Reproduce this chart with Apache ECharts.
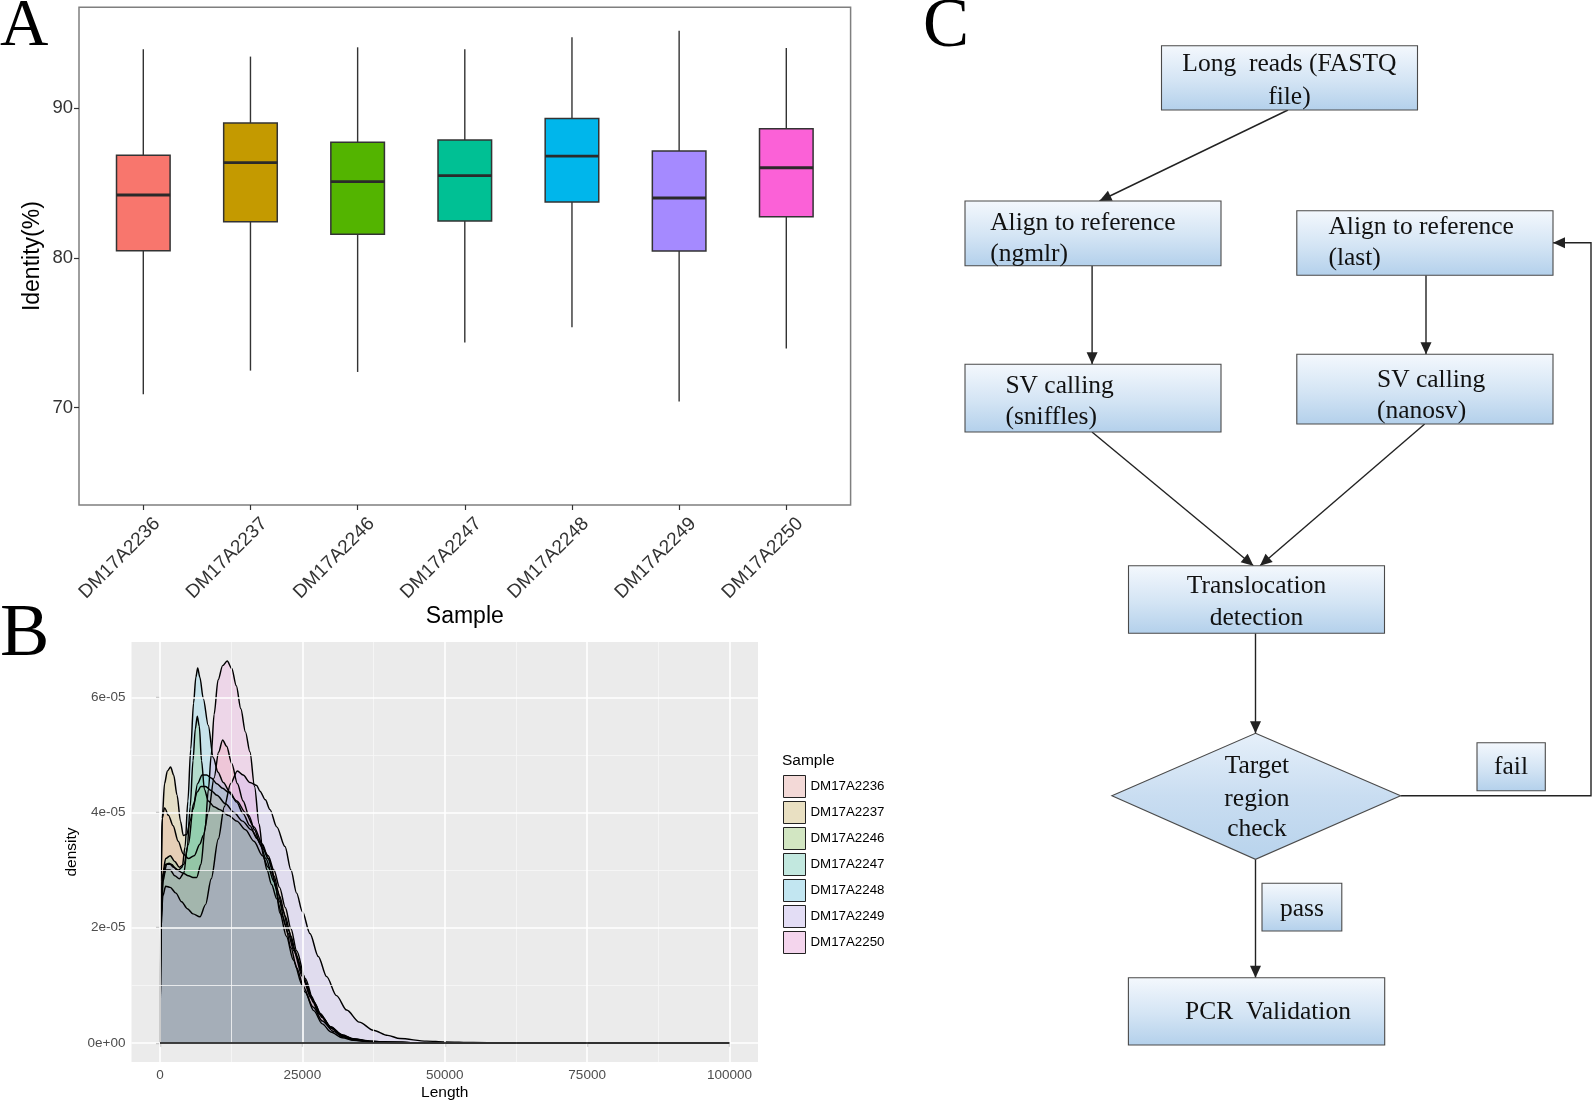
<!DOCTYPE html>
<html><head><meta charset="utf-8">
<script src="https://cdn.jsdelivr.net/npm/echarts@6/dist/echarts.min.js"></script>
<style>html,body{margin:0;padding:0;background:#fff;}#c{width:1594px;height:1102px;}</style>
</head><body><div id="c"></div>
<script>
// ---------- Panel A : identity boxplots ----------
const samples = ['DM17A2236','DM17A2237','DM17A2246','DM17A2247','DM17A2248','DM17A2249','DM17A2250'];
const whiskerLow  = [70.9, 72.47, 72.38, 74.34, 75.37, 70.4, 73.94];
const q1          = [80.47, 82.41, 81.57, 82.46, 83.73, 80.45, 82.74];
const median      = [84.19, 86.35, 85.08, 85.48, 86.78, 83.99, 86.01];
const q3          = [86.84, 89.0, 87.71, 87.86, 89.29, 87.13, 88.62];
const whiskerHigh = [93.92, 93.43, 94.05, 93.92, 94.72, 95.16, 94.0];
const identityTicks = [70, 80, 90];
const samplePositions = [1, 2, 3, 4, 5, 6, 7];

// ---------- Panel B : read length density (density in units of 1e-5) ----------
const lengthTicks = [0, 25000, 50000, 75000, 100000];
const lengthMinor = [12500, 37500, 62500, 87500];
const densityTicks = [0, 2, 4, 6];
const densityMinor = [1, 3, 5];

const len2236 = [0,150,400,800,1500,2300,3200,4100,5000,6000,7000,7600,8500,9500,10300,11000,11700,12600,13600,14600,15600,16600,17600,18600,19600,20600,21600,22600,23600,25000,26500,28000,30000,32000,34000,37000,40000,45000,50000,60000,100000];
const den2236 = [0,2.6,3.9,4.08,3.95,3.77,3.5,3.28,3.2,3.25,3.45,3.6,4.0,4.6,5.05,5.26,5.15,4.85,4.5,4.2,3.95,3.7,3.45,3.2,2.95,2.65,2.3,1.95,1.62,1.2,0.82,0.52,0.28,0.14,0.07,0.03,0.013,0.004,0.001,0,0];

const len2237 = [0,150,400,800,1300,1870,2400,3000,3600,4100,4700,5300,5900,6500,7200,8000,9000,10000,11500,13000,14500,16000,17500,19000,20000,21000,22000,23000,24000,25500,27000,28500,30000,32000,34000,37000,40000,45000,50000,60000,100000];
const den2237 = [0,2.8,3.9,4.5,4.72,4.79,4.65,4.3,3.85,3.6,3.62,3.85,4.15,4.35,4.45,4.45,4.38,4.3,4.15,4.0,3.85,3.7,3.5,3.25,3.0,2.7,2.35,1.98,1.6,1.12,0.72,0.44,0.26,0.12,0.055,0.02,0.008,0.002,0.001,0,0];

const len2246 = [0,200,500,1000,1800,2600,3400,4200,4800,5300,5800,6200,6550,6900,7300,7800,8500,9500,10500,12000,13500,15000,16500,18000,19000,20000,21000,22000,23000,24000,25500,27000,28500,30000,32000,34000,37000,40000,45000,50000,60000,100000];
const den2246 = [0,2.1,2.8,3.0,3.0,2.9,2.85,2.95,3.4,4.1,4.9,5.45,5.67,5.5,4.9,4.4,4.2,4.1,4.05,3.95,3.85,3.7,3.5,3.25,3.05,2.8,2.45,2.05,1.65,1.3,0.88,0.56,0.33,0.19,0.09,0.045,0.02,0.009,0.003,0.001,0,0];

const len2247 = [0,200,500,1000,1800,2600,3400,4200,5000,5800,6600,7400,8200,9000,10000,11000,12000,13500,15000,16500,18000,19000,20000,21000,22000,23000,24000,25500,27000,28500,30000,32000,34000,37000,40000,45000,50000,60000,100000];
const den2247 = [0,2.3,2.95,3.2,3.25,3.15,3.05,3.1,3.45,4.05,4.5,4.65,4.65,4.6,4.5,4.42,4.35,4.2,4.0,3.75,3.45,3.2,2.9,2.55,2.2,1.85,1.5,1.05,0.7,0.45,0.27,0.13,0.06,0.025,0.011,0.004,0.001,0,0];

const len2248 = [0,200,500,1000,1600,2400,3200,3900,4400,4900,5400,5900,6300,6620,7000,7600,8480,9360,10200,11110,12300,13460,14600,15800,17000,18140,19000,19600,20300,21070,22200,23410,25000,26920,28500,30430,32000,33940,37000,40000,45000,50000,60000,100000];
const den2248 = [0,2.2,2.9,3.1,3.12,3.05,3.0,3.05,3.4,4.2,5.1,5.9,6.35,6.51,6.35,5.98,5.51,4.95,4.7,4.52,4.35,4.18,3.98,3.77,3.55,3.36,3.2,3.06,2.7,2.25,1.85,1.44,1.0,0.62,0.38,0.2,0.11,0.05,0.02,0.01,0.004,0.001,0,0];

const len2249 = [0,200,500,1000,1800,2800,3800,4800,5800,7020,8000,9000,10240,11300,12400,13580,14600,15800,16970,17556,18500,19310,20500,21950,23000,23990,25000,26330,27800,29260,31000,32770,35000,37450,40000,42130,46820,50000,55000,60000,100000];
const den2249 = [0,2.0,2.55,2.72,2.7,2.6,2.45,2.33,2.24,2.19,2.4,2.85,3.54,4.1,4.5,4.72,4.65,4.52,4.47,4.37,4.22,4.05,3.75,3.41,3.0,2.6,2.28,1.9,1.5,1.15,0.82,0.57,0.36,0.22,0.13,0.075,0.03,0.015,0.005,0.002,0];

const len2250 = [0,200,600,1200,2000,3000,4000,5000,5800,6440,7200,7900,8500,9000,9500,10200,11000,11800,12600,13400,14200,15000,15800,16600,17400,18140,18800,19600,20500,21500,22500,23500,25000,26500,28000,30000,32000,34000,37000,40000,45000,50000,60000,100000];
const den2250 = [0,2.2,2.9,3.1,3.1,3.0,2.95,2.9,2.87,2.87,3.1,3.7,4.4,5.0,5.7,6.3,6.55,6.63,6.5,6.2,5.8,5.4,5.05,4.45,3.8,3.25,3.0,2.75,2.5,2.2,1.9,1.6,1.15,0.78,0.5,0.26,0.13,0.065,0.027,0.011,0.004,0.001,0,0];

const densityLengths = [len2236, len2237, len2246, len2247, len2248, len2249, len2250];
const densityValues  = [den2236, den2237, den2246, den2247, den2248, den2249, den2250];

// ---------- Panel C : flowchart texts ----------
const flowText = {
  reads: ['Long  reads (FASTQ', 'file)'],
  ngmlr: ['Align to reference', '(ngmlr)'],
  last: ['Align to reference', '(last)'],
  sniffles: ['SV calling', '(sniffles)'],
  nanosv: ['SV calling', '(nanosv)'],
  transl: ['Translocation', 'detection'],
  check: ['Target', 'region', 'check'],
  fail: ['fail'],
  pass: ['pass'],
  pcr: ['PCR  Validation']
};

// ---------- styles ----------
const hue = ['#F8766D','#C49A00','#53B400','#00C094','#00B6EB','#A58AFF','#FB61D7'];
const keyFill = ['#F3D9D7','#E9E0C2','#D2E6C2','#C2E8DF','#C2E6F1','#E3DDF5','#F4D5ED'];
function rgba(hex, a){const n=parseInt(hex.slice(1),16);return 'rgba('+(n>>16)+','+((n>>8)&255)+','+(n&255)+','+a+')';}
const SANS = '"Liberation Sans", Arial, sans-serif';
const SERIF = '"Liberation Serif", "Times New Roman", serif';

const flowLayout = {
  reads:   {box:[1161.5,45.7,256,64.3], align:'center', tx:1289.4, ty:[64.5,97]},
  ngmlr:   {box:[965,201,256,64.7], align:'left', tx:990.2, ty:[223,254]},
  last:    {box:[1296.8,210.7,256.2,64.6], align:'left', tx:1328.4, ty:[227,258]},
  sniffles:{box:[965,364.3,256,67.7], align:'left', tx:1005.4, ty:[386,417]},
  nanosv:  {box:[1296.8,354.3,256.2,69.7], align:'left', tx:1377, ty:[380,411]},
  transl:  {box:[1128.5,565.7,256,67.6], align:'center', tx:1256.5, ty:[586,618.5]},
  fail:    {box:[1477,742.7,68.3,48], align:'center', tx:1511, ty:[767.5]},
  pass:    {box:[1262,883.3,79.8,47.7], align:'center', tx:1301.9, ty:[909.5]},
  pcr:     {box:[1128.4,977.7,256.3,67.3], align:'center', tx:1268, ty:[1012]},
  check:   {diamond:[[1255.5,733.3],[1400.6,795.7],[1255.5,859.3],[1111.9,795.7]], align:'center', tx:1256.9, ty:[766.5,799.5,829.5]}
};
const flowEdges = [
  [[1288,110],[1099.5,201]],
  [[1092.1,265.7],[1092.1,364.3]],
  [[1426,275.3],[1426,354.3]],
  [[1092,432],[1253.4,565.7]],
  [[1424.7,424],[1260,565.7]],
  [[1255.5,633.3],[1255.5,733.3]],
  [[1255.5,859.3],[1255.5,977.7]],
  [[1400.6,795.7],[1591,795.7],[1591,242.7],[1553,242.7]]
];

const boxGrad = {type:'linear',x:0,y:0,x2:0,y2:1,colorStops:[{offset:0,color:'#F4F8FD'},{offset:0.55,color:'#D3E4F4'},{offset:1,color:'#B3D0EB'}]};
const diaGrad = {type:'linear',x:0,y:0,x2:0,y2:1,colorStops:[{offset:0,color:'#E6F0FA'},{offset:0.5,color:'#C9DDF1'},{offset:1,color:'#B8D3EC'}]};

const graphics = [];
function addText(t,x,y,size,family,align,color){
  graphics.push({type:'text', x:x, y:y, z:100, style:{text:t, font:size+'px '+family, fill:color||'#111', align:align, verticalAlign:'middle', textAlign:align, textVerticalAlign:'middle'}});
}
// panel letters
addText('A', 0, 27.5, 67, SERIF, 'left', '#000');
addText('B', 0, 636, 74, SERIF, 'left', '#000');
addText('C', 923, 27.5, 69, SERIF, 'left', '#000');
// legend title of B
addText('Sample', 782, 761, 15.5, SANS, 'left', '#000');

// flow edges
flowEdges.forEach(function(pts){
  graphics.push({type:'polyline', z:50, shape:{points:pts}, style:{stroke:'#222', lineWidth:1.4, fill:null}});
  const a = pts[pts.length-2], b = pts[pts.length-1];
  const dx=b[0]-a[0], dy=b[1]-a[1], L=Math.sqrt(dx*dx+dy*dy), ux=dx/L, uy=dy/L;
  const bl=12, hw=5.5;
  graphics.push({type:'polygon', z:51, shape:{points:[[b[0],b[1]],[b[0]-ux*bl-uy*hw,b[1]-uy*bl+ux*hw],[b[0]-ux*bl+uy*hw,b[1]-uy*bl-ux*hw]]}, style:{fill:'#222'}});
});
// flow nodes
Object.keys(flowText).forEach(function(k){
  const lay = flowLayout[k];
  if (lay.box) {
    graphics.push({type:'rect', z:60, shape:{x:lay.box[0],y:lay.box[1],width:lay.box[2],height:lay.box[3]}, style:{fill:boxGrad, stroke:'#4a4a4a', lineWidth:1.1}});
  } else {
    graphics.push({type:'polygon', z:60, shape:{points:lay.diamond}, style:{fill:diaGrad, stroke:'#4a4a4a', lineWidth:1.1}});
  }
  flowText[k].forEach(function(line,i){ addText(line, lay.tx, lay.ty[i], 25.5, SERIF, lay.align, '#111'); });
});

// ---------- series ----------
const boxSeries = {
  type:'custom', xAxisIndex:0, yAxisIndex:0, coordinateSystem:'cartesian2d',
  encode:{x:0, y:[1,2,3,4,5]},
  data: samples.map(function(s,i){return [samplePositions[i], whiskerLow[i], q1[i], median[i], q3[i], whiskerHigh[i]];}),
  renderItem: function(params, api){
    const x = api.value(0);
    const pLo = api.coord([x, api.value(1)]), pQ1 = api.coord([x, api.value(2)]),
          pMed = api.coord([x, api.value(3)]), pQ3 = api.coord([x, api.value(4)]), pHi = api.coord([x, api.value(5)]);
    const w = api.size([0.5, 0])[0];
    const cx = pMed[0];
    return {type:'group', children:[
      {type:'line', shape:{x1:cx,y1:pHi[1],x2:cx,y2:pQ3[1]}, style:{stroke:'#333',lineWidth:1.4}},
      {type:'line', shape:{x1:cx,y1:pQ1[1],x2:cx,y2:pLo[1]}, style:{stroke:'#333',lineWidth:1.4}},
      {type:'rect', shape:{x:cx-w/2,y:pQ3[1],width:w,height:pQ1[1]-pQ3[1]}, style:{fill:hue[params.dataIndex], stroke:'#333', lineWidth:1.5}},
      {type:'line', shape:{x1:cx-w/2,y1:pMed[1],x2:cx+w/2,y2:pMed[1]}, style:{stroke:'#2a2a2a',lineWidth:2.8}}
    ]};
  },
  animation:false
};

const gridLineSeries = {
  type:'line', xAxisIndex:1, yAxisIndex:1, data:[], silent:true, z:1, animation:false,
  markLine:{silent:true, symbol:['none','none'], label:{show:false}, animation:false,
    data: [].concat(
      lengthMinor.map(function(v){return {xAxis:v, lineStyle:{color:'#F7F7F7', width:0.8, type:'solid'}};}),
      densityMinor.map(function(v){return {yAxis:v, lineStyle:{color:'#F7F7F7', width:0.8, type:'solid'}};}),
      lengthTicks.map(function(v){return {xAxis:v, lineStyle:{color:'#FFFFFF', width:1.6, type:'solid'}};}),
      densityTicks.map(function(v){return {yAxis:v, lineStyle:{color:'#FFFFFF', width:1.6, type:'solid'}};})
    )}
};

const densitySeries = samples.map(function(name,i){
  return {type:'line', name:name, xAxisIndex:1, yAxisIndex:1, z:2,
    data: densityLengths[i].map(function(L,j){return [L, densityValues[i][j]];}),
    smooth:0.3, smoothMonotone:'x', showSymbol:false, symbol:'none',
    lineStyle:{color:'#000', width:1.45}, itemStyle:{color:hue[i]},
    areaStyle:{color:rgba(hue[i],0.22), origin:'auto'}, animation:false};
});

const baselineSeries = {
  type:'line', xAxisIndex:1, yAxisIndex:1, data:[], silent:true, z:3, animation:false,
  markLine:{silent:true, symbol:['none','none'], label:{show:false}, animation:false,
    data:[[{coord:[lengthTicks[0],0]},{coord:[lengthTicks[lengthTicks.length-1],0]}]],
    lineStyle:{color:'#000', width:1.6, type:'solid'}}
};

const option = {
  backgroundColor:'#ffffff',
  animation:false,
  textStyle:{fontFamily:SANS},
  grid:[
    {left:79, top:7.3, width:771.6, height:497.7, show:true, borderColor:'#7f7f7f', borderWidth:1.5, backgroundColor:'transparent', containLabel:false},
    {left:131.5, top:642, width:626.5, height:420, show:true, borderWidth:0, backgroundColor:'#EBEBEB', containLabel:false}
  ],
  xAxis:[
    {type:'value', gridIndex:0, min:0.4, max:7.6,
      axisLine:{show:false}, splitLine:{show:false},
      axisTick:{show:true, customValues:samplePositions, length:5, lineStyle:{color:'#333', width:1.2}},
      axisLabel:{customValues:samplePositions, formatter:function(v){return '{l|'+samples[Math.round(v)-1]+'}';}, rotate:45, align:'right', verticalAlign:'top', margin:2,
        rich:{l:{fontSize:19, color:'#333', fontFamily:SANS, padding:[10,0,0,0]}}},
      name:'Sample', nameLocation:'middle', nameGap:94, nameTextStyle:{fontSize:23, color:'#000', fontFamily:SANS}},
    {type:'value', gridIndex:1, min:-5000, max:105000,
      axisLine:{show:false}, splitLine:{show:false},
      axisTick:{show:true, customValues:lengthTicks, length:4, lineStyle:{color:'#333', width:1.1}},
      axisLabel:{customValues:lengthTicks, formatter:function(v){return String(v);}, fontSize:13.5, color:'#4D4D4D', margin:6, fontFamily:SANS},
      name:'Length', nameLocation:'middle', nameGap:23, nameTextStyle:{fontSize:15.5, color:'#000', fontFamily:SANS}}
  ],
  yAxis:[
    {type:'value', gridIndex:0, min:63.5, max:96.72,
      axisLine:{show:false}, splitLine:{show:false},
      axisTick:{show:true, customValues:identityTicks, length:5, lineStyle:{color:'#333', width:1.2}},
      axisLabel:{customValues:identityTicks, fontSize:18.5, color:'#333', margin:6, fontFamily:SANS},
      name:'Identity(%)', nameLocation:'middle', nameGap:35, nameRotate:90, nameTextStyle:{fontSize:23, color:'#000', fontFamily:SANS}},
    {type:'value', gridIndex:1, min:-0.332, max:6.96,
      axisLine:{show:false}, splitLine:{show:false},
      axisTick:{show:true, customValues:densityTicks, length:4, lineStyle:{color:'#333', width:1.1}},
      axisLabel:{customValues:densityTicks, formatter:function(v){return v===0?'0e+00':(v+'e-05');}, fontSize:13.5, color:'#4D4D4D', margin:6, fontFamily:SANS},
      name:'density', nameLocation:'middle', nameGap:52, nameRotate:90, nameTextStyle:{fontSize:15.5, color:'#000', fontFamily:SANS}}
  ],
  legend:{orient:'vertical', left:783, top:775, padding:0, itemWidth:22, itemHeight:22, itemGap:3, selectedMode:false, icon:'rect',
    textStyle:{fontSize:13.3, color:'#000', fontFamily:SANS},
    data: samples.map(function(n,i){return {name:n, icon:'rect', itemStyle:{color:keyFill[i], borderColor:'#222', borderWidth:1}};})},
  series:[boxSeries, gridLineSeries].concat(densitySeries, [baselineSeries]),
  graphic:{elements:graphics}
};
const chart = echarts.init(document.getElementById('c'));
chart.setOption(option);
</script>
</body></html>
